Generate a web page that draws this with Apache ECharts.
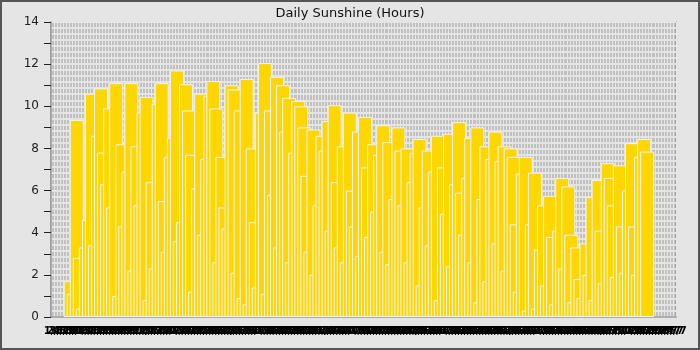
<!DOCTYPE html>
<html><head><meta charset="utf-8">
<script src="https://cdn.jsdelivr.net/npm/echarts@6/dist/echarts.min.js"></script>
<style>html,body{margin:0;padding:0;background:#e5e5e5}#c{width:700px;height:350px}</style>
</head><body><div id="c"></div>
<script>
const titleText = 'Daily Sunshine (Hours)';
const leadingEmpty = 6;
const trailingEmpty = 9;
const sunshine = [
 1.7, 1.1, 9.35, 2.8, 0.4, 3.3, 4.6, 10.6, 3.4, 8.6,
 10.85, 7.8, 6.3, 9.9, 5.2, 11.1, 1.0, 8.2, 4.3, 6.9,
 11.1, 2.2, 8.1, 5.3, 9.7, 10.45, 0.8, 6.4, 2.3, 10.1,
 11.1, 5.5, 3.1, 7.6, 8.5, 11.7, 3.6, 4.5, 11.05, 9.8,
 7.7, 1.2, 6.1, 10.6, 3.9, 7.5, 10.5, 11.2, 9.9, 2.6,
 7.6, 5.2, 4.2, 11.0, 10.8, 2.1, 9.8, 0.9, 11.3, 0.6,
 8.0, 4.5, 1.4, 9.7, 12.05, 1.1, 9.8, 5.8, 11.4, 3.3,
 11.0, 8.8, 10.4, 2.6, 7.8, 10.25, 10.0, 9.0, 6.7, 3.1,
 8.9, 2.0, 5.3, 8.6, 7.9, 9.3, 4.1, 10.05, 6.4, 3.3,
 8.1, 2.6, 9.7, 6.0, 4.3, 8.8, 2.9, 9.5, 7.1, 3.8,
 8.2, 5.0, 7.7, 9.1, 3.1, 8.3, 2.5, 5.6, 9.0, 7.9,
 5.3, 8.0, 2.6, 6.4, 7.8, 8.45, 1.5, 5.2, 7.9, 3.4,
 6.9, 8.6, 0.8, 7.1, 4.9, 8.7, 2.4, 6.3, 9.25, 5.9,
 3.9, 6.6, 8.5, 2.6, 9.0, 0.7, 5.6, 8.1, 1.7, 7.5,
 8.8, 3.5, 7.4, 8.1, 2.2, 8.0, 7.6, 4.4, 1.2, 6.8,
 7.6, 0.3, 4.4, 6.85, 0.4, 3.2, 5.3, 1.5, 5.75, 3.8,
 0.6, 4.1, 6.6, 2.3, 6.2, 3.9, 0.7, 3.3, 1.8, 0.9,
 3.5, 2.0, 5.7, 0.8, 6.5, 4.1, 1.6, 7.3, 6.6, 5.3,
 1.9, 7.2, 4.3, 2.1, 6.0, 8.25, 4.3, 2.0, 7.6, 8.45,
 7.85
];
const yTicks = [0, 2, 4, 6, 8, 10, 12, 14];

// category labels: one per day
const totalDays = leadingEmpty + sunshine.length + trailingEmpty;
const days = [];
for (let i = 0; i < totalDays; i++) {
  const d = new Date(Date.UTC(2023, 0, 1 + i));
  days.push(d.getUTCDate() + '/' + (d.getUTCMonth() + 1));
}
const seriesData = [];
for (let i = 0; i < leadingEmpty; i++) seriesData.push(null);
sunshine.forEach(v => seriesData.push(v));
for (let i = 0; i < trailingEmpty; i++) seriesData.push(null);

const chart = echarts.init(document.getElementById('c'), null, {renderer: 'canvas'});
const light = '#e5e5e5';
chart.setOption({
  animation: false,
  backgroundColor: '#e5e5e5',
  textStyle: {fontFamily: 'DejaVu Sans'},
  title: {text: titleText, left: 'center', top: 2,
    textStyle: {fontSize: 13, fontWeight: 'normal', color: '#111', fontFamily: 'DejaVu Sans'}},
  graphic: [{type: 'rect', shape: {x: 1, y: 1, width: 698, height: 348}, z: 100,
    style: {fill: 'none', stroke: '#555', lineWidth: 2}}],
  grid: {left: 51, right: 24, top: 22, bottom: 33, show: true,
    backgroundColor: '#c0c0c0', borderColor: '#9a9a9a', borderWidth: 1.5},
  xAxis: {type: 'category', data: days, boundaryGap: true,
    axisLine: {show: true, lineStyle: {color: '#9a9a9a', width: 1.5}},
    axisTick: {show: false},
    axisLabel: {interval: 0, fontSize: 10, fontWeight: 'bold', color: '#000', margin: 9, fontFamily: 'DejaVu Sans'},
    splitLine: {show: true, interval: 0, lineStyle: {color: light, width: 1}}},
  yAxis: [{type: 'value', min: yTicks[0], max: yTicks[yTicks.length - 1], interval: yTicks[1] - yTicks[0],
    axisLine: {show: true, lineStyle: {color: '#9a9a9a', width: 1.5}},
    axisTick: {show: true, length: 7, lineStyle: {color: '#222'}},
    axisLabel: {fontSize: 12, color: '#222', margin: 12, fontFamily: 'DejaVu Sans'},
    minorTick: {show: false, splitNumber: 7},
    minorSplitLine: {show: true, lineStyle: {color: light, width: 2}},
    splitLine: {show: true, lineStyle: {color: light, width: 2}}},
   {type: 'value', min: 0, max: 14, interval: 1, position: 'left',
    axisLine: {show: false}, axisLabel: {show: false}, splitLine: {show: false},
    axisTick: {show: true, length: 7, lineStyle: {color: '#222'}}}],
  series: [{type: 'bar', data: seriesData, barWidth: 14, yAxisIndex: 0,
    itemStyle: {color: '#FFD700', borderColor: '#eef2fa', borderWidth: 1}}]
});
</script></body></html>
